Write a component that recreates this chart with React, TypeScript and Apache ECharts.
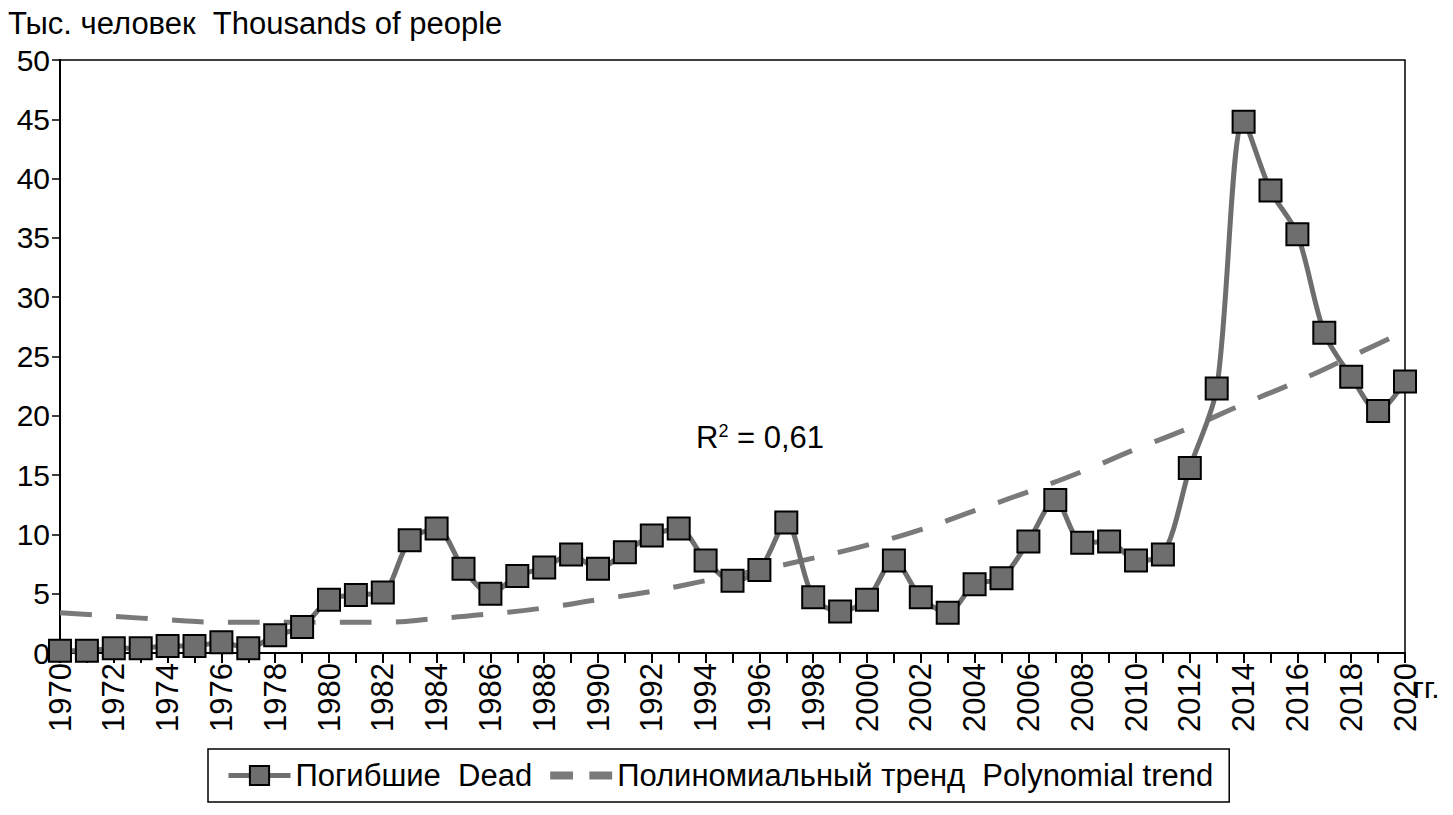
import React, { useEffect, useRef } from "react";
import * as echarts from "echarts";

const years = [
  1970, 1971, 1972, 1973, 1974, 1975, 1976, 1977, 1978, 1979,
  1980, 1981, 1982, 1983, 1984, 1985, 1986, 1987, 1988, 1989,
  1990, 1991, 1992, 1993, 1994, 1995, 1996, 1997, 1998, 1999,
  2000, 2001, 2002, 2003, 2004, 2005, 2006, 2007, 2008, 2009,
  2010, 2011, 2012, 2013, 2014, 2015, 2016, 2017, 2018, 2019, 2020,
];
const dead = [
  0.2, 0.2, 0.4, 0.4, 0.6, 0.6, 0.9, 0.4, 1.5, 2.2,
  4.5, 4.9, 5.1, 9.5, 10.5, 7.1, 5.0, 6.5, 7.2, 8.3,
  7.1, 8.5, 9.9, 10.5, 7.8, 6.1, 7.0, 11.0, 4.7, 3.5,
  4.5, 7.8, 4.7, 3.4, 5.8, 6.3, 9.4, 12.9, 9.3, 9.4,
  7.8, 8.3, 15.6, 22.3, 44.8, 39.0, 35.3, 27.0, 23.3, 20.4, 22.9,
];
const trendYears = [
  1970, 1972, 1974, 1976, 1978, 1980, 1982, 1984, 1986, 1988,
  1990, 1992, 1994, 1996, 1998, 2000, 2002, 2004, 2006, 2008,
  2010, 2012, 2014, 2016, 2018, 2019.5,
];
const trend = [
  3.4, 3.1, 2.8, 2.6, 2.6, 2.6, 2.6, 2.9, 3.3, 3.8,
  4.5, 5.2, 6.1, 7.0, 8.0, 9.1, 10.4, 12.0, 13.6, 15.3,
  17.2, 19.0, 21.0, 22.9, 25.0, 26.6,
];
const yTitle = "Тыс. человек  Thousands of people";
const seriesNames = ["Погибшие  Dead", "Полиномиальный тренд  Polynomial trend"];

const FONT = "Liberation Sans, Arial, sans-serif";

export default function App() {
  const ref = useRef<HTMLDivElement>(null);
  useEffect(() => {
    if (!ref.current) return;
    const chart = echarts.init(ref.current, null, { renderer: "svg" });
    chart.setOption({
      animation: false,
      backgroundColor: "#ffffff",
      textStyle: { fontFamily: FONT, color: "#000" },
      grid: {
        left: 60, right: 48, top: 60, bottom: 162,
        show: true, borderColor: "#000", borderWidth: 1.5,
      },
      xAxis: {
        type: "value", min: 1970, max: 2020, interval: 1,
        axisLine: { lineStyle: { color: "#000", width: 2 } },
        axisTick: { show: true, length: 10, lineStyle: { color: "#000", width: 2 } },
        splitLine: { show: false },
        axisLabel: {
          rotate: 90, fontSize: 31, color: "#000", margin: 10, fontFamily: FONT,
          formatter: (v: number) => (v % 2 === 0 ? String(v) : ""),
          showMinLabel: true, showMaxLabel: true,
        },
      },
      yAxis: {
        type: "value", min: 0, max: 50, interval: 5,
        axisLine: { show: true, lineStyle: { color: "#000", width: 2 } },
        axisTick: { show: true, length: 8, lineStyle: { color: "#000", width: 1.5 } },
        splitLine: { show: false },
        axisLabel: { fontSize: 30, color: "#000", margin: 10, fontFamily: FONT },
      },
      legend: {
        left: 208, top: 749,
        itemGap: 18,
        padding: [11, 16, 11, 18],
        borderColor: "#000", borderWidth: 1.5,
        textStyle: { fontSize: 31, color: "#000", fontFamily: FONT },
        data: [
          { name: seriesNames[0], lineStyle: { width: 5, color: "#6e6e6e" } },
          {
            name: seriesNames[1],
            icon: "path://M0,0 H14 V5 H0 Z M24,0 H38 V5 H24 Z",
            itemStyle: { color: "#7a7a7a" },
          },
        ],
        itemWidth: 62, itemHeight: 24,
      },
      graphic: [
        {
          type: "text", left: 8, top: 8,
          style: { text: yTitle, fontSize: 31, fill: "#000", fontFamily: FONT },
        },
        {
          type: "text", left: 1413, top: 672,
          style: { text: "гг.", fontSize: 30, fill: "#000", fontFamily: FONT },
        },
        {
          type: "text", left: 696, top: 422,
          style: {
            text: "{r|R}{s|2}{r| = 0,61}",
            fontFamily: FONT, fill: "#000",
            rich: {
              r: { fontSize: 31, fontFamily: FONT, fill: "#000" },
              s: { fontSize: 18, fontFamily: FONT, fill: "#000", verticalAlign: "top", padding: [0, 0, 12, 0] },
            },
          },
        },
      ],
      series: [
        {
          name: seriesNames[0],
          type: "line",
          data: years.map((y, i) => [y, dead[i]]),
          smooth: 0.3,
          symbol: "rect",
          symbolSize: 22,
          lineStyle: { color: "#6e6e6e", width: 5 },
          itemStyle: { color: "#6e6e6e", borderColor: "#000", borderWidth: 2 },
          z: 3,
        },
        {
          name: seriesNames[1],
          type: "line",
          data: trendYears.map((y, i) => [y, trend[i]]),
          smooth: true,
          symbol: "none",
          lineStyle: { color: "#7a7a7a", width: 5, type: [32, 24] },
          itemStyle: { color: "#7a7a7a" },
          z: 2,
        },
      ],
    });
    return () => chart.dispose();
  }, []);
  return (
    <div
      ref={ref}
      style={{ position: "fixed", left: 0, top: 0, width: 1453, height: 815 }}
    />
  );
}
